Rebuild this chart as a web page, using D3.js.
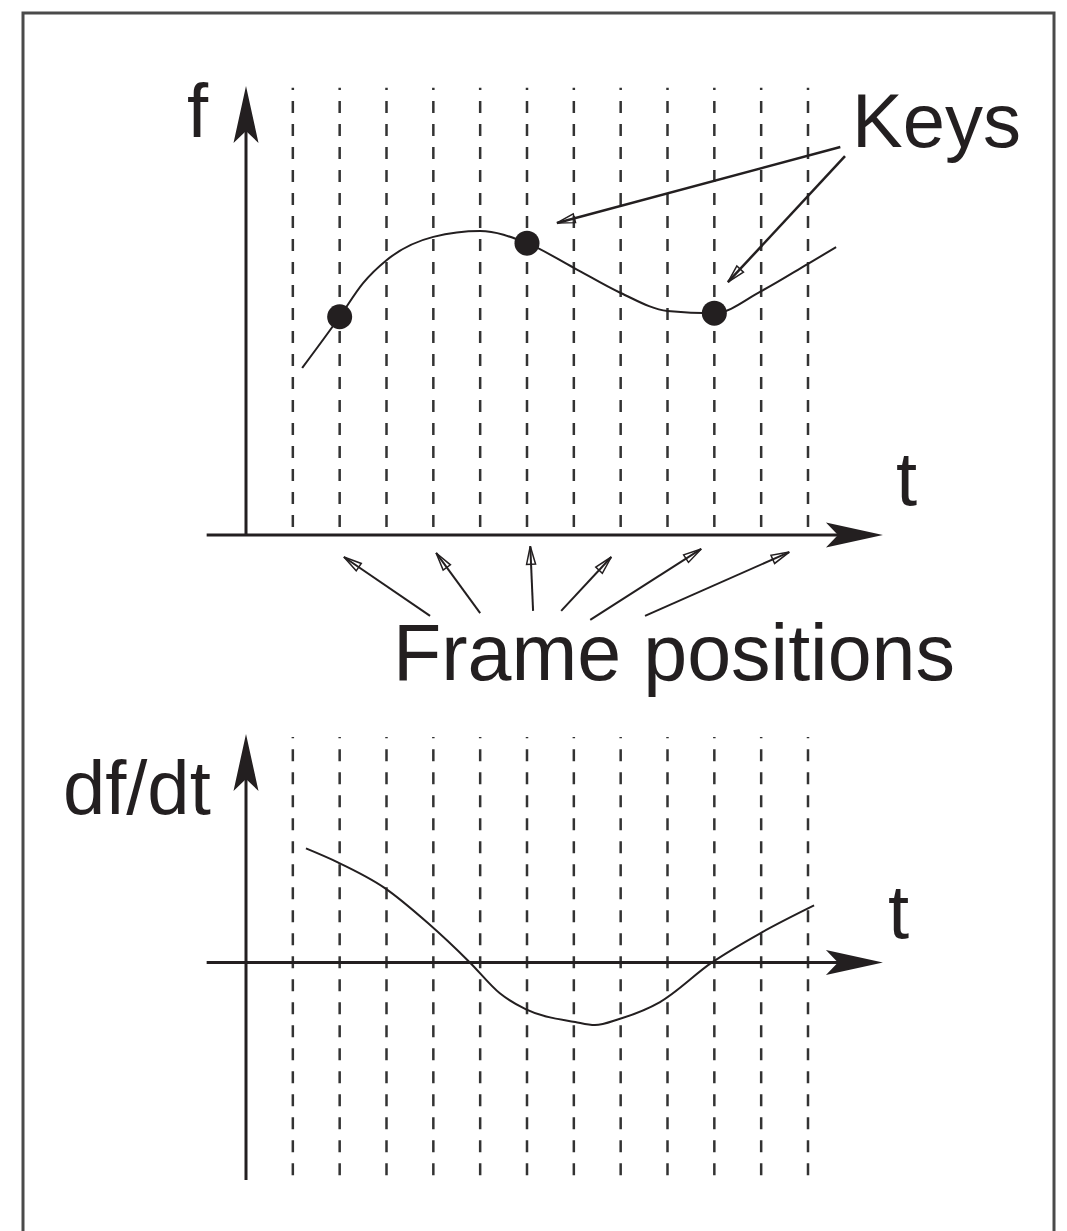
<!DOCTYPE html>
<html>
<head>
<meta charset="utf-8">
<script src="https://cdn.jsdelivr.net/npm/d3@7"></script>
<style>
  html, body { margin: 0; padding: 0; background: #fff; }
  svg text { font-family: "Liberation Sans", Arial, sans-serif; fill: #231f20; }
</style>
</head>
<body>
<svg id="chart" width="1067" height="1231"></svg>
<script>
// frame positions along t, and the key frames
const frames = [1, 2, 3, 4, 5, 6, 7, 8, 9, 10, 11, 12];
const keyFrames = [2, 6, 10];

// f(t)
const fTimes  = [1.2, 2, 2.5, 3, 4, 5, 6, 7, 8, 9, 10, 11, 12, 12.6];
const fValues = [3.72, 4.86, 5.61, 6.12, 6.64, 6.77, 6.5, 5.95, 5.39, 4.99, 4.94, 5.43, 6.04, 6.41];

// df/dt
const dTimes  = [1.28, 1.96, 2.95, 3.89, 4.78, 5.42, 5.98, 7.03, 7.45, 7.97, 8.84, 9.95, 10.98, 12.13];
const dValues = [2.62, 2.3, 1.72, 0.9, 0, -0.71, -1.08, -1.37, -1.44, -1.3, -0.91, 0, 0.67, 1.31];

// annotation arrows [t0, f0, t1, f1] (tail -> head) in data units of the upper plot
const keyArrows = [[12.69, 8.64, 6.64, 6.95], [12.79, 8.44, 10.29, 5.63]];
const frameArrows = [
  [3.93, -1.8, 2.09, -0.49],
  [5.0, -1.74, 4.06, -0.4],
  [6.13, -1.69, 6.07, -0.25],
  [6.73, -1.69, 7.8, -0.49],
  [7.35, -1.89, 9.72, -0.31],
  [8.52, -1.8, 11.6, -0.38]
];

const svg = d3.select("#chart");
const ink = "#231f20";

const t = d3.scaleLinear().domain([0, 12]).range([246, 808]);
const fY = d3.scaleLinear().domain([0, 10]).range([535, 86]);
const dY = d3.scaleLinear().domain([-5, 5.25]).range([1180, 734]);

// frame
svg.append("rect")
    .attr("x", 23).attr("y", 13)
    .attr("width", 1031).attr("height", 1300)
    .attr("fill", "none")
    .attr("stroke", "#4a4a4a")
    .attr("stroke-width", 3);

const defs = svg.append("defs");
defs.append("marker")
    .attr("id", "bigHead")
    .attr("markerUnits", "userSpaceOnUse")
    .attr("viewBox", "-60 -14 62 28")
    .attr("markerWidth", 62).attr("markerHeight", 28)
    .attr("refX", 0).attr("refY", 0)
    .attr("orient", "auto")
  .append("path")
    .attr("d", "M0,0 L-57,-12.5 L-45,0 L-57,12.5 Z")
    .attr("fill", ink);

defs.append("marker")
    .attr("id", "smallHead")
    .attr("markerUnits", "userSpaceOnUse")
    .attr("viewBox", "-22 -7 24 14")
    .attr("markerWidth", 24).attr("markerHeight", 14)
    .attr("refX", 0).attr("refY", 0)
    .attr("orient", "auto")
  .append("path")
    .attr("d", "M0,0 L-18,-4.5 L-18,4.5 Z")
    .attr("fill", "none")
    .attr("stroke", ink)
    .attr("stroke-width", 1.5);

// draws an axis line whose end carries the big barbed head
function axisArrow(x1, y1, x2, y2) {
    const len = Math.hypot(x2 - x1, y2 - y1);
    const k = (len - 40) / len;
    svg.append("line")
        .attr("x1", x1).attr("y1", y1)
        .attr("x2", x1 + (x2 - x1) * k).attr("y2", y1 + (y2 - y1) * k)
        .attr("stroke", ink).attr("stroke-width", 3);
    // invisible stub carries the marker at the real tip
    svg.append("path")
        .attr("d", `M${x1 + (x2 - x1) * k},${y1 + (y2 - y1) * k}L${x2},${y2}`)
        .attr("stroke", "none")
        .attr("marker-end", "url(#bigHead)");
}

function panel(yScale, yLo, yHi, dashLo, dashHi) {
    // dashed frame positions
    svg.append("g").selectAll("line")
        .data(frames)
        .join("line")
        .attr("x1", d => t(d)).attr("x2", d => t(d))
        .attr("y1", yScale(dashLo)).attr("y2", yScale(dashHi))
        .attr("stroke", "#333")
        .attr("stroke-width", 2.5)
        .attr("stroke-dasharray", "12,11");

    // t axis and vertical axis
    axisArrow(t(-0.84), yScale(0), t(13.6), yScale(0));
    axisArrow(t(0), yScale(yLo), t(0), yScale(yHi));
}

panel(fY, 0, 10, 0.18, 9.96);
panel(dY, -5, 5.25, -4.89, 5.18);

// f(t) curve and keys
const fLine = d3.line()
    .x(d => t(d[0]))
    .y(d => fY(d[1]))
    .curve(d3.curveMonotoneX);

svg.append("path")
    .attr("d", fLine(d3.zip(fTimes, fValues)))
    .attr("fill", "none")
    .attr("stroke", ink)
    .attr("stroke-width", 2);

svg.append("g").selectAll("circle")
    .data(keyFrames)
    .join("circle")
    .attr("cx", d => t(d))
    .attr("cy", d => fY(fValues[fTimes.indexOf(d)]))
    .attr("r", 12.5)
    .attr("fill", ink);

// df/dt curve
const dLine = d3.line()
    .x(d => t(d[0]))
    .y(d => dY(d[1]))
    .curve(d3.curveMonotoneX);

svg.append("path")
    .attr("d", dLine(d3.zip(dTimes, dValues)))
    .attr("fill", "none")
    .attr("stroke", ink)
    .attr("stroke-width", 2);

// annotation arrows
svg.append("g").selectAll("line")
    .data(keyArrows)
    .join("line")
    .attr("x1", d => t(d[0])).attr("y1", d => fY(d[1]))
    .attr("x2", d => t(d[2])).attr("y2", d => fY(d[3]))
    .attr("stroke", ink).attr("stroke-width", 2.5)
    .attr("marker-end", "url(#smallHead)");

svg.append("g").selectAll("line")
    .data(frameArrows)
    .join("line")
    .attr("x1", d => t(d[0])).attr("y1", d => fY(d[1]))
    .attr("x2", d => t(d[2])).attr("y2", d => fY(d[3]))
    .attr("stroke", ink).attr("stroke-width", 2)
    .attr("marker-end", "url(#smallHead)");

// labels
const label = (txt, x, y, size) => svg.append("text")
    .attr("x", x).attr("y", y)
    .attr("font-size", size)
    .text(txt);

label("f", t(-1.26), fY(8.86), 76);
label("t", t(13.88), fY(0.67), 76);
label("Keys", t(12.94), fY(8.64), 76);
label("Frame positions", t(3.14), fY(-3.23), 79);
label("df/dt", t(-3.91), dY(3.4), 76);
label("t", t(13.71), dY(0.56), 76);
</script>
</body>
</html>
